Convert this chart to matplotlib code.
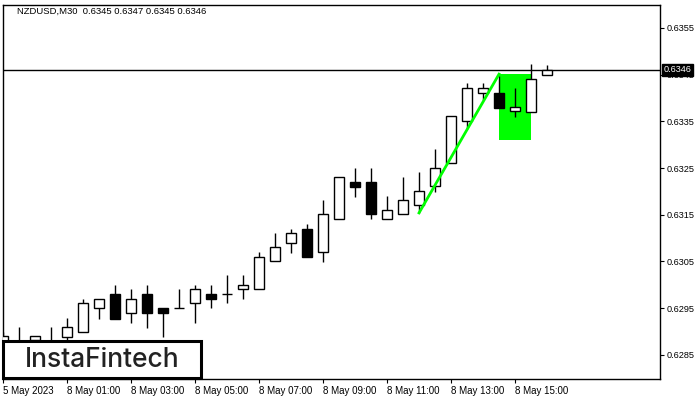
import matplotlib
matplotlib.use("Agg")
import matplotlib.pyplot as plt
from matplotlib.patches import Rectangle

plt.rcParams["font.family"] = ["Liberation Sans", "DejaVu Sans"]

# ---- data (NZDUSD M30) ---------------------------------------------------
opens = [0.6287, 0.6288, 0.62882, 0.6288, 0.62888, 0.62899, 0.62951, 0.62980,
         0.62940, 0.62980, 0.62951, 0.62951, 0.62961, 0.62980, 0.62980, 0.62991,
         0.62991, 0.63051, 0.63090, 0.63120, 0.63070, 0.63141, 0.63220, 0.63220,
         0.63141, 0.63152, 0.63171, 0.63212, 0.63261, 0.63351, 0.63411, 0.63411,
         0.63372, 0.63370, 0.6345]
highs = [0.6290, 0.62910, 0.62891, 0.62910, 0.62929, 0.62970, 0.62970, 0.63000,
         0.62991, 0.63000, 0.62951, 0.62991, 0.63000, 0.63000, 0.63021, 0.63021,
         0.63070, 0.63111, 0.63120, 0.63130, 0.63182, 0.63231, 0.63250, 0.63250,
         0.63190, 0.63231, 0.63242, 0.63291, 0.63362, 0.63432, 0.63432, 0.63447,
         0.63422, 0.63473, 0.6347]
lows = [0.6284, 0.6284, 0.6286, 0.6285, 0.62882, 0.62899, 0.62927, 0.62927,
        0.62918, 0.62908, 0.62888, 0.62951, 0.62918, 0.62951, 0.62961, 0.62970,
        0.62991, 0.63051, 0.63068, 0.63060, 0.63049, 0.63141, 0.63188, 0.63141,
        0.63141, 0.63152, 0.63154, 0.63199, 0.63261, 0.63334, 0.63396, 0.63379,
        0.63359, 0.63370, 0.6345]
closes = [0.6289, 0.6286, 0.62891, 0.6287, 0.62910, 0.62961, 0.62970, 0.62927,
          0.62970, 0.62940, 0.62940, 0.62951, 0.62991, 0.62970, 0.62980, 0.63000,
          0.63060, 0.63081, 0.63111, 0.63060, 0.63152, 0.63231, 0.63210, 0.63152,
          0.63160, 0.63182, 0.63201, 0.63250, 0.63362, 0.63422, 0.63422, 0.63379,
          0.63381, 0.63441, 0.6346]

xtick_pos = [0, 4, 8, 12, 16, 20, 24, 28, 32]
xtick_labels = ["5 May 2023", "8 May 01:00", "8 May 03:00", "8 May 05:00",
                "8 May 07:00", "8 May 09:00", "8 May 11:00", "8 May 13:00",
                "8 May 15:00"]
yticks = [0.6285, 0.6295, 0.6305, 0.6315, 0.6325, 0.6335, 0.6345, 0.6355]

last_price = 0.6346
flag_x = [31, 33]
flag_y = [0.63310, 0.63452]
pole_x = [26, 31]
pole_y = [0.63154, 0.63451]

title = "NZDUSD,M30  0.6345 0.6347 0.6345 0.6346"
GREEN = "#00ff00"

# ---- figure --------------------------------------------------------------
fig = plt.figure(figsize=(7, 4), dpi=100)
ax = fig.add_axes([3 / 700, 21 / 400, 657 / 700, 374 / 400])
ax.set_xlim(0, 41.06)
ax.set_ylim(0.627985, 0.63599)

# flag body
ax.add_patch(Rectangle((flag_x[0], flag_y[0]), flag_x[1] - flag_x[0],
                       flag_y[1] - flag_y[0], facecolor=GREEN, edgecolor="none",
                       zorder=1))
ax.plot(pole_x, pole_y, color=GREEN, lw=2.0, zorder=5)

ax.axhline(last_price, color="black", lw=1.0, zorder=2)

bw = 0.62
for k, (o, h, l, c) in enumerate(zip(opens, highs, lows, closes)):
    ax.vlines(k, l, h, color="black", lw=1.0, zorder=3)
    lo, hi = min(o, c), max(o, c)
    fc = "white" if c >= o else "black"
    if hi - lo < 1e-6:
        ax.hlines(lo, k - bw / 2, k + bw / 2, color="black", lw=1.0, zorder=4)
    else:
        ax.add_patch(Rectangle((k - bw / 2, lo), bw, hi - lo, facecolor=fc,
                               edgecolor="black", lw=1.0, zorder=4))

ax.set_xticks(xtick_pos)
ax.set_xticklabels(xtick_labels, fontsize=7)
for t in ax.get_xticklabels():
    t.set_ha("left")
ax.yaxis.tick_right()
ax.set_yticks(yticks)
ax.set_yticklabels([f"{v:.4f}" for v in yticks], fontsize=6.6)
ax.tick_params(axis="both", length=3, width=0.8, direction="out", pad=2)
for s in ax.spines.values():
    s.set_linewidth(1.0)

ax.text(0.022, 0.983, title, transform=ax.transAxes, fontsize=6.8,
        ha="left", va="center")

# current price tag (sits over the 0.6345 tick label, as in the terminal)
ax.text(1.006, last_price, "0.6346", transform=ax.get_yaxis_transform(),
        fontsize=6.6, color="white", ha="left", va="center", clip_on=False,
        zorder=10, bbox=dict(facecolor="black", edgecolor="black", pad=1.2))

# logo
fig.patches.append(Rectangle((3 / 700, 22 / 400), 198 / 700, 37 / 400,
                             transform=fig.transFigure, facecolor="white",
                             edgecolor="black", lw=2.2, zorder=5))
fig.text(102 / 700, 40 / 400, "InstaFintech", fontsize=19, family="Inter",
         weight="medium", color="#222222", ha="center", va="center", zorder=6)

fig.savefig("out.png", dpi=100)
